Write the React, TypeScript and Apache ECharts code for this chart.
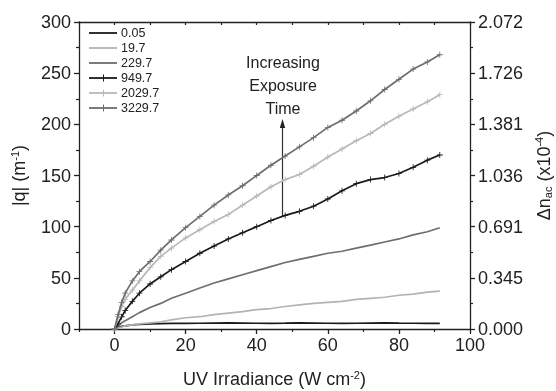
import React, { useEffect, useRef } from "react";
import * as echarts from "echarts";

const seriesNames = ["0.05", "19.7", "229.7", "949.7", "2029.7", "3229.7"];
const xVals = [0, 1, 2, 3, 5, 7, 10, 13, 16, 20, 24, 28, 32, 36, 40, 44, 48, 52, 56, 60, 64, 68, 72, 76, 80, 84, 88, 91.5];
const s005 = [0, 1.5, 2.5, 3, 4, 4.5, 5, 5.2, 5.4, 5.5, 5.6, 5.8, 6, 5.8, 5.6, 5.5, 5.7, 6, 5.8, 5.6, 5.5, 5.6, 5.8, 5.9, 5.7, 5.6, 5.5, 5.5];
const s197 = [0, 1, 2, 3, 4, 5, 6, 7, 9, 11, 12, 14, 15.5, 17, 19, 20, 22, 23.5, 25, 26, 27, 29, 30, 31, 33, 34, 36, 37];
const s2297 = [0, 3, 6, 8, 12, 16, 21, 25, 30, 35, 40, 45, 49, 53, 57, 61, 65, 68, 71, 74, 76, 79, 82, 85, 88, 92, 95, 99];
const s9497 = [0, 5, 12, 18, 27, 35, 44, 51, 58, 66, 74, 81, 88, 94, 100, 106, 111, 115, 120, 127, 135, 142, 146, 148, 152, 158, 165, 170];
const s20297 = [0, 12, 22, 29, 38, 47, 60, 71, 79, 89, 97, 105, 112, 121, 130, 139, 146, 151, 159, 168, 176, 184, 191, 200, 208, 215, 222, 229];
const s32297 = [0, 14, 26, 35, 47, 56, 66, 77, 87, 99, 110, 121, 131, 140, 150, 160, 169, 178, 187, 197, 204, 213, 223, 234, 244, 254, 261, 268];
const allSeries = [s005, s197, s2297, s9497, s20297, s32297];
const hasCross = [false, false, false, true, true, true];
const colors = ["#1a1a1a", "#b3b3b3", "#6e6e6e", "#1a1a1a", "#b8b8b8", "#6e6e6e"];

const xMajor = [0, 20, 40, 60, 80, 100];
const xMinor = [-10, 10, 30, 50, 70, 90];
const xTop = [-10, 0, 10, 20, 30, 40, 50, 60, 70, 80, 90, 100];
const yMajor = [0, 50, 100, 150, 200, 250, 300];
const yMinor = [25, 75, 125, 175, 225, 275];
const rightLabels = ["0.000", "0.345", "0.691", "1.036", "1.381", "1.726", "2.072"];

const FONT = "'Liberation Sans', Arial, sans-serif";
const CROSS = "path://M4.3,0H5.7V4.3H10V5.7H5.7V10H4.3V5.7H0V4.3H4.3Z";

function legendGraphics() {
  const items: any[] = [];
  seriesNames.forEach((name, i) => {
    const y = 33 + i * 15;
    items.push({
      type: "line",
      shape: { x1: 89, y1: y, x2: 117, y2: y },
      style: { stroke: colors[i], lineWidth: 1.8 },
      z: 20,
    });
    if (hasCross[i]) {
      items.push({
        type: "line",
        shape: { x1: 103.5, y1: y - 3.5, x2: 103.5, y2: y + 3.5 },
        style: { stroke: colors[i], lineWidth: 1 },
        z: 20,
      });
    }
    items.push({
      type: "text",
      x: 121,
      y,
      style: { text: name, fill: "#222", font: `12.5px ${FONT}`, verticalAlign: "middle", align: "left" },
      z: 20,
    });
  });
  return items;
}

export default function App() {
  const ref = useRef<HTMLDivElement>(null);
  useEffect(() => {
    if (!ref.current) return;
    const chart = echarts.init(ref.current, null, { renderer: "svg" });
    const axisLine = { show: true, onZero: false, lineStyle: { color: "#222", width: 1.3 } };
    const noLine = { show: false, onZero: false };
    const grid = { left: 79, top: 22, width: 391, height: 307, outerBoundsMode: "none" };
    const xBase = { type: "value", min: -10, max: 100, gridIndex: 0, splitLine: { show: false } };
    const yBase = { type: "value", min: 0, max: 300, gridIndex: 0, splitLine: { show: false } };
    const tickMajor = { color: "#222", width: 1.3 };
    const tickMinor = { color: "#222", width: 1.2 };
    const supRich = { fontSize: 11, verticalAlign: "top", padding: [0, 0, 9, 0], color: "#222", fontFamily: FONT };
    chart.setOption({
      animation: false,
      textStyle: { fontFamily: FONT },
      grid,
      xAxis: [
        {
          ...xBase,
          position: "bottom",
          axisLine,
          axisTick: { show: true, customValues: xMajor, length: 5, lineStyle: tickMajor },
          axisLabel: { customValues: xMajor, fontSize: 18, color: "#222", margin: 7, fontFamily: FONT },
          name: "UV Irradiance (W cm{sup|-2})",
          nameLocation: "middle",
          nameGap: 40,
          nameTextStyle: { fontSize: 18, color: "#222", fontFamily: FONT, rich: { sup: supRich } },
        },
        {
          ...xBase,
          position: "bottom",
          axisLine: noLine,
          axisTick: { show: true, customValues: xMinor, length: 3, lineStyle: tickMinor },
          axisLabel: { show: false },
        },
        {
          ...xBase,
          position: "top",
          axisLine,
          axisTick: { show: true, inside: true, customValues: xTop, length: 3, lineStyle: tickMinor },
          axisLabel: { show: false },
        },
      ],
      yAxis: [
        {
          ...yBase,
          position: "left",
          axisLine,
          axisTick: { show: true, customValues: yMajor, length: 5, lineStyle: tickMajor },
          axisLabel: { customValues: yMajor, fontSize: 18, color: "#222", margin: 8, fontFamily: FONT },
          name: "|q| (m{sup|-1})",
          nameLocation: "middle",
          nameRotate: 90,
          nameGap: 50,
          nameTextStyle: { fontSize: 18, color: "#222", fontFamily: FONT, rich: { sup: supRich } },
        },
        {
          ...yBase,
          position: "left",
          axisLine: noLine,
          axisTick: { show: true, customValues: yMinor, length: 3, lineStyle: tickMinor },
          axisLabel: { show: false },
        },
        {
          ...yBase,
          position: "right",
          axisLine,
          axisTick: { show: true, customValues: yMajor, length: 5, lineStyle: tickMajor },
          axisLabel: {
            customValues: yMajor,
            fontSize: 18,
            color: "#222",
            margin: 8,
            fontFamily: FONT,
            formatter: (v: number) => rightLabels[Math.round(v / 50)] ?? "",
          },
          name: "Δn{sub|ac} (x10{sup|-4})",
          nameLocation: "middle",
          nameRotate: 90,
          nameGap: 48,
          nameTextStyle: {
            fontSize: 18, color: "#222", fontFamily: FONT,
            rich: {
              sup: supRich,
              sub: { fontSize: 11, verticalAlign: "bottom", padding: [8, 0, 0, 0], color: "#222", fontFamily: FONT },
            },
          },
        },
        {
          ...yBase,
          position: "right",
          axisLine: noLine,
          axisTick: { show: true, customValues: yMinor, length: 3, lineStyle: tickMinor },
          axisLabel: { show: false },
        },
      ],
      series: seriesNames.map((name, i) => ({
        name,
        type: "line",
        xAxisIndex: 0,
        yAxisIndex: 0,
        data: xVals.map((x, j) => [x, allSeries[i][j]]),
        symbol: hasCross[i] ? CROSS : "none",
        showSymbol: hasCross[i],
        symbolSize: 6,
        lineStyle: { color: colors[i], width: 1.7 },
        itemStyle: { color: colors[i] },
        z: 2 + i,
      })),
      graphic: [
        ...legendGraphics(),
        {
          type: "text",
          x: 283,
          y: 51,
          style: {
            text: "Increasing\nExposure\nTime",
            fill: "#222",
            font: `16px ${FONT}`,
            align: "center",
            verticalAlign: "top",
            lineHeight: 23,
          },
        },
        {
          type: "line",
          shape: { x1: 282.5, y1: 217, x2: 282.5, y2: 125 },
          style: { stroke: "#333", lineWidth: 1.2 },
        },
        {
          type: "polygon",
          shape: { points: [[282.5, 119], [279.8, 128], [285.2, 128]] },
          style: { fill: "#222" },
        },
      ],
    });
    return () => chart.dispose();
  }, []);
  return <div ref={ref} style={{ position: "fixed", left: 0, top: 0, width: 556, height: 391 }} />;
}
